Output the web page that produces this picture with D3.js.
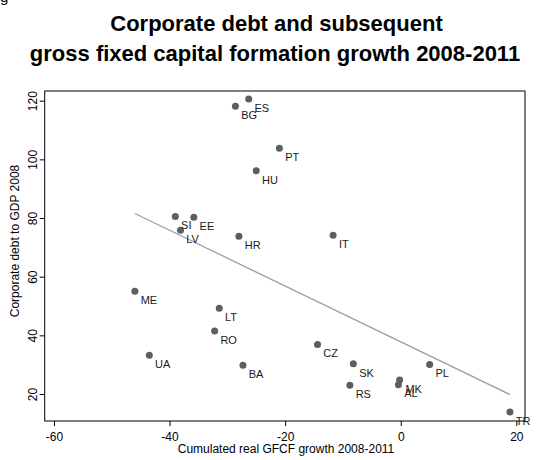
<!DOCTYPE html>
<html>
<head>
<meta charset="utf-8">
<script src="https://cdn.jsdelivr.net/npm/d3@7"></script>
<style>
  html, body { margin: 0; padding: 0; background: #fff; }
  svg { display: block; font-family: "Liberation Sans", Arial, sans-serif; }
</style>
</head>
<body>
<svg id="chart" width="540" height="460"></svg>
<script>
// Country codes and their values
const countries = ["BG","ES","PT","HU","SI","EE","LV","HR","IT","ME","LT","RO","UA","BA","CZ","SK","PL","RS","MK","AL","TR"];
// Cumulated real GFCF growth 2008-2011 (%)
const gfcfGrowth = [-28.6,-26.3,-21.0,-25.0,-39.0,-35.8,-38.1,-28.0,-11.7,-46.0,-31.4,-32.2,-43.5,-27.3,-14.4,-8.2,5.0,-8.8,-0.2,-0.4,18.9];
// Corporate debt to GDP 2008 (%)
const corpDebt = [118.1,120.6,103.8,96.1,80.5,80.3,75.8,73.8,74.1,55.0,49.2,41.5,33.2,29.8,36.9,30.3,30.1,23.0,24.8,23.2,13.9];
const xTicks = [-60,-40,-20,0,20];
const yTicks = [20,40,60,80,100,120];

const svg = d3.select("#chart");
const plot = { left: 44.7, right: 525, top: 91, bottom: 421 };

const x = d3.scaleLinear().domain([-61.6, 21.5]).range([plot.left, plot.right]);
const y = d3.scaleLinear().domain([10.8, 123.3]).range([plot.bottom, plot.top]);

const points = countries.map((c, i) => ({ c, x: gfcfGrowth[i], y: corpDebt[i] }));
const plainNumber = d => String(d);

// Descender of a clipped caption above the chart
svg.append("text").attr("x", 0).attr("y", 1.5)
  .attr("font-size", 15).attr("fill", "#000").text("g");

// Title
const title = svg.append("text").attr("text-anchor", "middle")
  .attr("font-size", 22).attr("font-weight", "bold").attr("fill", "#000");
title.append("tspan").attr("x", 276.5).attr("y", 31).text("Corporate debt and subsequent");
title.append("tspan").attr("x", 275).attr("y", 61).text("gross fixed capital formation growth 2008-2011");

// Axes
const xAxis = svg.append("g").attr("transform", `translate(0,${plot.bottom})`)
  .call(d3.axisBottom(x).tickValues(xTicks).tickSize(5).tickPadding(6.5).tickFormat(plainNumber));
xAxis.select(".domain").remove();
xAxis.selectAll("text").attr("font-size", 12).attr("font-family", "Liberation Sans, Arial, sans-serif").attr("fill", "#000");
xAxis.selectAll("line").attr("stroke", "#000");

const yAxis = svg.append("g").attr("transform", `translate(${plot.left},0)`)
  .call(d3.axisLeft(y).tickValues(yTicks).tickSize(5).tickFormat(plainNumber));
yAxis.select(".domain").remove();
yAxis.selectAll("line").attr("stroke", "#000");
yAxis.selectAll("text")
  .attr("transform", "rotate(-90)")
  .attr("x", 0).attr("y", -8).attr("dy", 0)
  .attr("text-anchor", "middle")
  .attr("font-size", 12).attr("font-family", "Liberation Sans, Arial, sans-serif").attr("fill", "#000");

// Plot frame
svg.append("rect")
  .attr("x", plot.left).attr("y", plot.top)
  .attr("width", plot.right - plot.left).attr("height", plot.bottom - plot.top)
  .attr("fill", "none").attr("stroke", "#000").attr("stroke-width", 1);

// Axis titles
svg.append("text").attr("x", 286).attr("y", 453).attr("text-anchor", "middle")
  .attr("font-size", 12).attr("fill", "#000").text("Cumulated real GFCF growth 2008-2011");
svg.append("text").attr("transform", "translate(18.5,241) rotate(-90)").attr("text-anchor", "middle")
  .attr("font-size", 12).attr("fill", "#000").text("Corporate debt to GDP 2008");

// Least-squares fit across the observed range
const mx = d3.mean(points, d => d.x), my = d3.mean(points, d => d.y);
const slope = d3.sum(points, d => (d.x - mx) * (d.y - my)) / d3.sum(points, d => (d.x - mx) ** 2);
const intercept = my - slope * mx;
const [x0, x1] = d3.extent(points, d => d.x);
svg.append("line")
  .attr("x1", x(x0)).attr("y1", y(intercept + slope * x0))
  .attr("x2", x(x1)).attr("y2", y(intercept + slope * x1))
  .attr("stroke", "#a0a0a0").attr("stroke-width", 1.3);

// Points and country labels
svg.append("g").selectAll("circle").data(points).join("circle")
  .attr("cx", d => x(d.x)).attr("cy", d => y(d.y)).attr("r", 3.5)
  .attr("fill", "#5e5e5e");

svg.append("g").selectAll("text").data(points).join("text")
  .attr("x", d => x(d.x) + 5.8).attr("y", d => y(d.y) + 12.8)
  .attr("font-size", 11).attr("fill", "#1a1a1a").text(d => d.c);
</script>
</body>
</html>
